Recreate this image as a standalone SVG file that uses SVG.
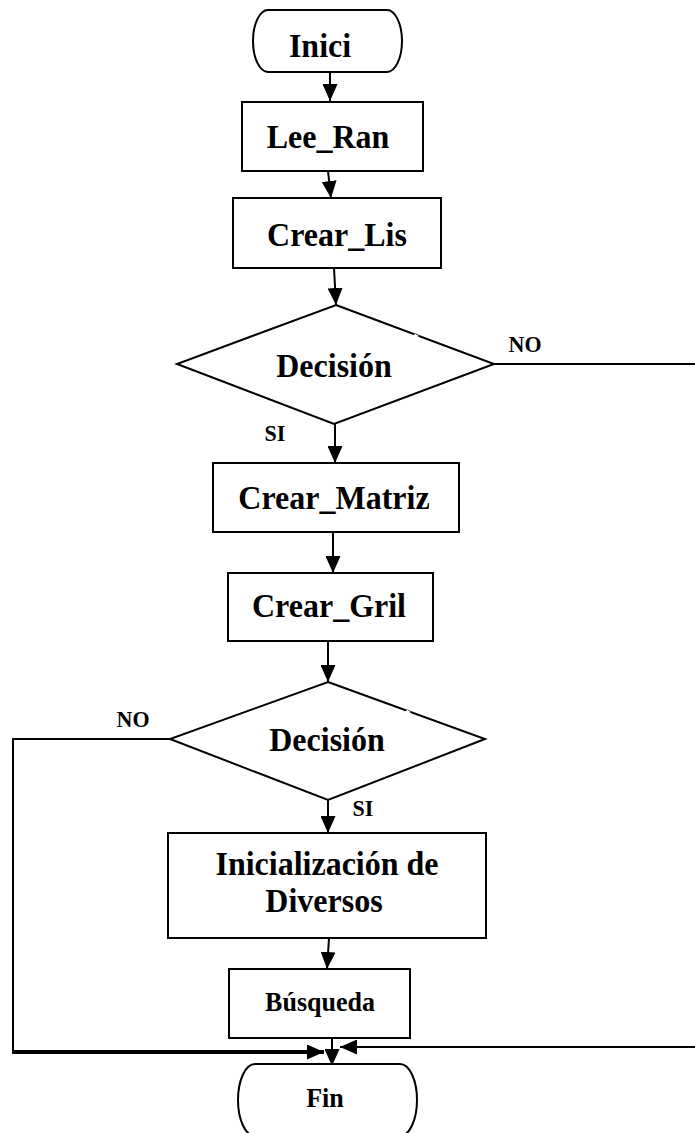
<svg xmlns="http://www.w3.org/2000/svg" width="695" height="1133" viewBox="0 0 695 1133">
  <style>
    .shape { fill: #fff; stroke: #000; stroke-width: 2; }
    .lbl { font-family: "Liberation Serif", "Times New Roman", serif; font-weight: bold; fill: #000; text-anchor: middle; }
    .big { font-size: 32px; }
    .mid { font-size: 26px; }
    .small { font-size: 22px; }
    .wire { fill: none; stroke: #000; stroke-width: 2; }
    .thick { stroke-width: 4; }
  </style>
  <defs>
    <marker id="ah" markerWidth="17" markerHeight="15" refX="17" refY="7.5" orient="auto" markerUnits="userSpaceOnUse">
      <path d="M0,0 L17,7.5 L0,15 z" fill="#000"/>
    </marker>
  </defs>

  <rect width="695" height="1133" fill="#fff"/>

  <!-- connectors -->
  <g id="connectors">
    <line class="wire" x1="330" y1="72" x2="330" y2="101" marker-end="url(#ah)"/>
    <line class="wire" x1="328" y1="171" x2="331" y2="198" marker-end="url(#ah)"/>
    <line class="wire" x1="334" y1="268" x2="336" y2="305" marker-end="url(#ah)"/>
    <line class="wire" x1="335" y1="424" x2="335" y2="463" marker-end="url(#ah)"/>
    <line class="wire" x1="333" y1="532" x2="333" y2="573" marker-end="url(#ah)"/>
    <line class="wire" x1="328" y1="641" x2="328" y2="682" marker-end="url(#ah)"/>
    <line class="wire" x1="328" y1="800" x2="328" y2="833" marker-end="url(#ah)"/>
    <line class="wire" x1="329" y1="938" x2="327" y2="969" marker-end="url(#ah)"/>
    <line class="wire" x1="332" y1="1038" x2="332" y2="1066" marker-end="url(#ah)"/>
    <!-- NO branch of the first decision -->
    <line class="wire" x1="494" y1="364" x2="695" y2="364"/>
    <line class="wire" x1="695" y1="1047" x2="340" y2="1047" marker-end="url(#ah)"/>
    <!-- NO branch of the second decision -->
    <polyline class="wire" points="170,739 13,739 13,1052"/>
    <line class="wire thick" x1="12" y1="1052" x2="324" y2="1052" marker-end="url(#ah)"/>
  </g>

  <g id="inici">
    <rect class="shape" x="253" y="10" width="149" height="62" rx="15" ry="31"/>
    <text class="lbl big" transform="translate(320 57) scale(1 1.08)">Inici</text>
  </g>

  <g id="lee-ran">
    <rect class="shape" x="242" y="102" width="181" height="69"/>
    <text class="lbl big" transform="translate(328 148) scale(1 1.08)">Lee_Ran</text>
  </g>

  <g id="crear-lis">
    <rect class="shape" x="233" y="198" width="208" height="70"/>
    <text class="lbl big" transform="translate(337 246) scale(1 1.08)">Crear_Lis</text>
  </g>

  <g id="decision-1">
    <polygon class="shape" points="336,305 494,364 334,424 177,364"/>
    <line x1="414" y1="335" x2="418" y2="337" stroke="#fff" stroke-width="3"/>
    <text class="lbl big" transform="translate(334 377) scale(1 1.08)">Decisión</text>
    <text class="lbl small" transform="translate(525 352) scale(1 1.08)">NO</text>
    <text class="lbl small" transform="translate(275 441) scale(1 1.08)">SI</text>
  </g>

  <g id="crear-matriz">
    <rect class="shape" x="213" y="463" width="246" height="69"/>
    <text class="lbl big" transform="translate(334 509) scale(1 1.08)">Crear_Matriz</text>
  </g>

  <g id="crear-gril">
    <rect class="shape" x="228" y="573" width="205" height="68"/>
    <text class="lbl big" transform="translate(329 617) scale(1 1.08)">Crear_Gril</text>
  </g>

  <g id="decision-2">
    <polygon class="shape" points="328,682 485,739 328,800 170,739"/>
    <line x1="406" y1="711" x2="410" y2="713" stroke="#fff" stroke-width="3"/>
    <text class="lbl big" transform="translate(327 751) scale(1 1.08)">Decisión</text>
    <text class="lbl small" transform="translate(133 727) scale(1 1.08)">NO</text>
    <text class="lbl small" transform="translate(363 816) scale(1 1.08)">SI</text>
  </g>

  <g id="inicializacion">
    <rect class="shape" x="168" y="833" width="318" height="105"/>
    <text class="lbl big" transform="translate(327 875) scale(1 1.08)">Inicialización de</text>
    <text class="lbl big" transform="translate(324 912) scale(1 1.08)">Diversos</text>
  </g>

  <g id="busqueda">
    <rect class="shape" x="229" y="969" width="181" height="69"/>
    <text class="lbl mid" transform="translate(320 1011) scale(1 1.08)">Búsqueda</text>
  </g>

  <g id="fin">
    <rect class="shape" x="238" y="1064" width="179" height="72" rx="17" ry="36"/>
    <text class="lbl mid" transform="translate(325 1107) scale(1 1.08)">Fin</text>
  </g>
</svg>
